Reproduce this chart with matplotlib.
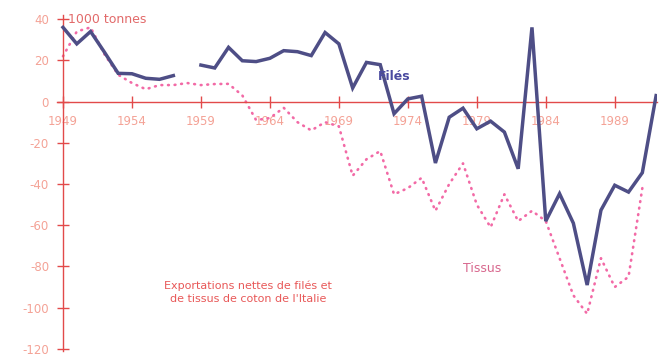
import matplotlib
matplotlib.use('Agg')
import matplotlib.pyplot as plt
import numpy as np

# net exports, 1000 tonnes
years_files = [1949, 1950, 1951, 1952, 1953, 1954, 1955, 1956, 1957, 1958,
               1959, 1960, 1961, 1962, 1963, 1964, 1965, 1966, 1967, 1968,
               1969, 1970, 1971, 1972, 1973, 1974, 1975, 1976, 1977, 1978,
               1979, 1980, 1981, 1982, 1983, 1984, 1985, 1986, 1987, 1988,
               1989, 1990, 1991, 1992]
files = [36, 28, 34, 24, 13.7, 13.5, 11.3, 10.8, 12.6, np.nan,
         17.7, 16.3, 26.3, 19.8, 19.4, 21, 24.7, 24.2, 22.3, 33.5,
         28, 6.6, 19, 17.9, -5.9, 1.3, 2.6, -29.8, -7.6, -3.2,
         -13.2, -9.5, -14.8, -32.6, 36, -58, -44.7, -59, -89, -52.7,
         -40.6, -43.9, -34.5, 2.9]

years_tissus = [1949, 1950, 1951, 1952, 1953, 1954, 1955, 1956, 1957, 1958,
                1959, 1960, 1961, 1962, 1963, 1964, 1965, 1966, 1967, 1968,
                1969, 1970, 1971, 1972, 1973, 1974, 1975, 1976, 1977, 1978,
                1979, 1980, 1981, 1982, 1983, 1984, 1985, 1986, 1987, 1988,
                1989, 1990, 1991]
tissus = [22, 34, 36, 23, 13, 9, 6, 8, 8, 9,
          8, 8.5, 8.6, 3, -9, -8, -3, -10, -14, -10,
          -12, -36, -28, -24, -45, -42, -37, -53, -40, -30,
          -50, -61, -45, -58, -53, -58, -76, -94, -103, -76,
          -90, -85, -42]

xticks = [1949, 1954, 1959, 1964, 1969, 1974, 1979, 1984, 1989]
yticks = [-120, -100, -80, -60, -40, -20, 0, 20, 40]

red = '#e24a4a'
light = '#f4a296'

fig = plt.figure(figsize=(6.63, 3.58), dpi=100)
ax = fig.add_axes([0.0867, 0.0196, 0.905, 0.9385])

ax.plot(years_tissus, tissus, color='#f26aa6', lw=1.9, linestyle=(0, (0.3, 2.2)),
        dash_capstyle='round', zorder=2)
ax.plot(years_files, files, color='#4e4e86', lw=2.5, solid_joinstyle='miter', zorder=3)

ax.set_xlim(1948.6, 1992.1)
ax.set_ylim(-121, 42)

ax.spines['top'].set_visible(False)
ax.spines['right'].set_visible(False)
ax.spines['left'].set_position(('data', 1949))
ax.spines['bottom'].set_position(('data', 0))
ax.spines['left'].set_color(red)
ax.spines['bottom'].set_color(red)
ax.spines['left'].set_linewidth(1.0)
ax.spines['bottom'].set_linewidth(1.0)

ax.set_xticks(xticks)
ax.set_yticks(yticks)
ax.set_xticklabels([str(y) for y in xticks])
ax.set_yticklabels([str(y) for y in yticks])
ax.tick_params(axis='both', direction='inout', length=8, width=1.0, color=red,
               labelcolor=light, labelsize=8.5)
ax.tick_params(axis='x', pad=6)
ax.tick_params(axis='y', pad=6)

ax.text(1949.35, 40, '1000 tonnes', color='#e26a6a', fontsize=9, va='center', ha='left')
ax.text(1971.8, 12, 'Filés', color='#4a4aa0', fontsize=9, fontweight='bold',
        va='center', ha='left')
ax.text(1978.0, -81, 'Tissus', color='#d8688e', fontsize=9, va='center', ha='left')
ax.text(1962.4, -92.6, "Exportations nettes de filés et\nde tissus de coton de l'Italie",
        color='#e85858', fontsize=8, va='center', ha='center', linespacing=1.45)

fig.savefig('out.png', dpi=100)
